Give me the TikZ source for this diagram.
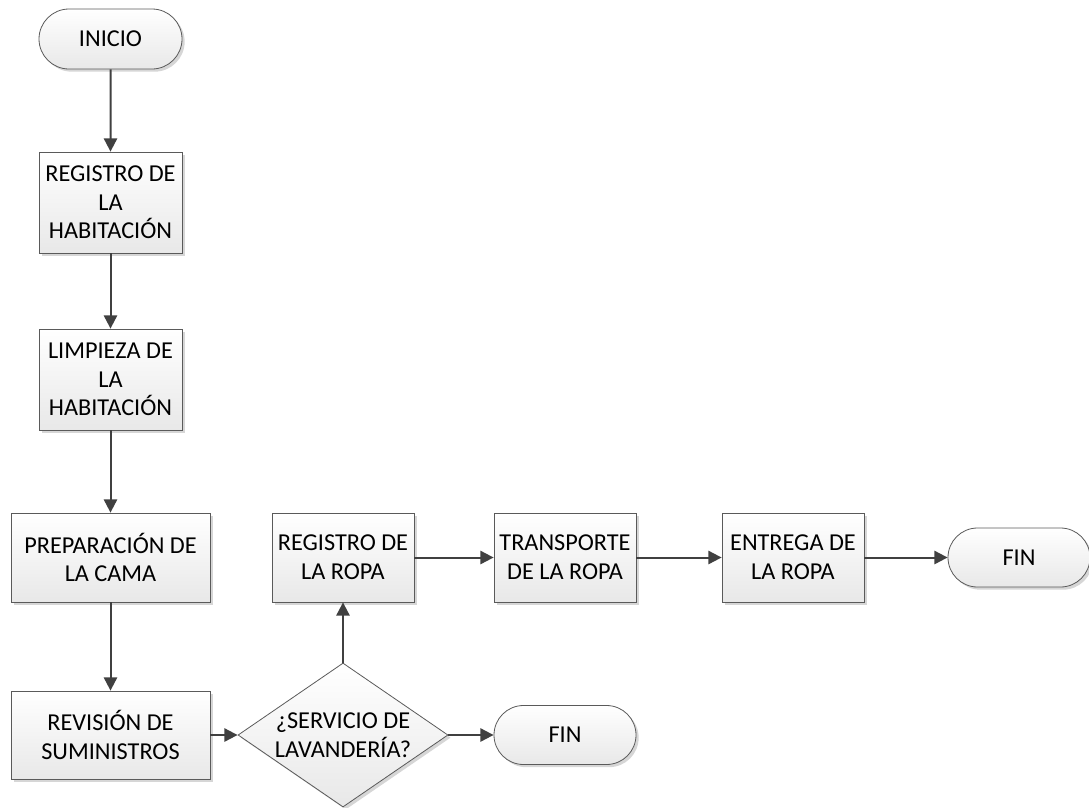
\documentclass[tikz,border=0pt]{standalone}
\usepackage{fontspec}
\setmainfont{Carlito}
\usepackage{tikz}
\usetikzlibrary{arrows.meta}
\usetikzlibrary{shapes.geometric,shapes.misc,shadows}
\newcommand{\pxu}{0.75pt}
\definecolor{linea}{HTML}{404040}
\definecolor{borde}{HTML}{5A5A5A}
\tikzset{
  base/.style={draw=borde, line width=0.6pt, top color=white, bottom color=black!9,
    drop shadow={shadow xshift=2pt, shadow yshift=-2pt, fill=black!16, opacity=1},
    align=center, inner sep=0pt, font=\fontsize{18.2}{21.5}\selectfont},
  proc/.style 2 args={base, rectangle, minimum width=#1*\pxu, minimum height=#2*\pxu},
  term/.style={base, rounded rectangle, minimum width=142*\pxu, minimum height=59*\pxu},
  decision/.style={base, diamond, aspect=1.458, minimum width=210*\pxu, minimum height=144*\pxu},
  flow/.style={draw=linea, line width=1.5pt, -{Triangle[length=10pt,width=10pt]}}
}

\begin{document}
\begin{tikzpicture}[x=\pxu, y=-\pxu]
\useasboundingbox (0,0) rectangle (1089,807);
\node[term, minimum width=143*\pxu, minimum height=60*\pxu] (inicio) at (110.5,39) {INICIO};
\node[proc={143}{101}] (reghab) at (110.5,202.5) {REGISTRO DE\\LA\\HABITACIÓN};
\node[proc={143}{101}] (limpieza) at (110.5,379.5) {LIMPIEZA DE\\LA\\HABITACIÓN};
\node[proc={199}{89}] (cama) at (110.5,557.5) {PREPARACIÓN DE\\LA CAMA};
\node[proc={199}{88}] (suministros) at (110.5,735) {REVISIÓN DE\\SUMINISTROS};
\node[decision] (lavanderia) at (343,735) {¿SERVICIO DE\\LAVANDERÍA?};
\node[term] (finb) at (565,735) {FIN};
\node[proc={142}{89}] (regropa) at (343,557.5) {REGISTRO DE\\LA ROPA};
\node[proc={142}{89}] (transporte) at (565,557.5) {TRANSPORTE\\DE LA ROPA};
\node[proc={142}{89}] (entrega) at (793,557.5) {ENTREGA DE\\LA ROPA};
\node[term] (fina) at (1019,557.5) {FIN};
\foreach \a/\b in {inicio/reghab, reghab/limpieza, limpieza/cama, cama/suministros,
  suministros/lavanderia, lavanderia/finb, lavanderia/regropa, regropa/transporte,
  transporte/entrega, entrega/fina} {
 \draw[flow] (\a) -- (\b);
}
\end{tikzpicture}
\end{document}
